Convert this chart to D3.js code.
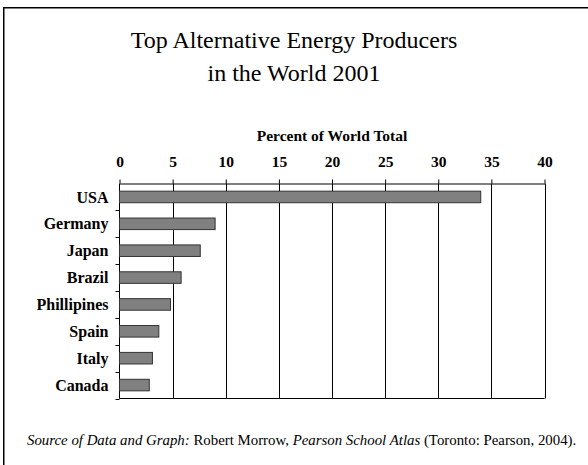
<!DOCTYPE html>
<html>
<head>
<meta charset="utf-8">
<script src="https://cdn.jsdelivr.net/npm/d3@7"></script>
<style>
  body { margin: 0; background: #fff; }
  svg text { font-family: "Liberation Serif", "Times New Roman", serif; }
</style>
</head>
<body>
<div id="chart"></div>
<script>
const countries = ['USA', 'Germany', 'Japan', 'Brazil', 'Phillipines', 'Spain', 'Italy', 'Canada']
const percents = [34.0, 9.0, 7.6, 5.8, 4.8, 3.7, 3.1, 2.8]
const tickValues = [0, 5, 10, 15, 20, 25, 30, 35, 40]

const width = 588
const height = 465
const margin = { top: 183.5, right: 43.5, bottom: 66.5, left: 119.5 }
const serif = '"Liberation Serif", "Times New Roman", serif'

const data = countries.map((c, i) => ({ name: c, value: percents[i] }))

const svg = d3
  .select('#chart')
  .append('svg')
  .attr('width', width)
  .attr('height', height)
  .attr('font-family', serif)

// slide frame (only top and left edges fall inside the picture)
svg
  .append('rect')
  .attr('x', 3.75)
  .attr('y', 7.75)
  .attr('width', width)
  .attr('height', height)
  .attr('fill', 'none')
  .attr('stroke', '#000')
  .attr('stroke-width', 1.5)

const title = svg
  .append('text')
  .attr('text-anchor', 'middle')
  .style('font-size', '24px')
title.append('tspan').attr('x', 294).attr('y', 48).text('Top Alternative Energy Producers')
title.append('tspan').attr('x', 294).attr('y', 81).text('in the World 2001')

const x = d3.scaleLinear().domain([0, 40]).range([margin.left, width - margin.right])
const y = d3
  .scaleBand()
  .domain(countries)
  .range([margin.top, height - margin.bottom])

// vertical grid lines
svg
  .append('g')
  .selectAll('line')
  .data(tickValues.slice(1))
  .join('line')
  .attr('x1', d => Math.round(x(d)) + 0.5)
  .attr('x2', d => Math.round(x(d)) + 0.5)
  .attr('y1', margin.top)
  .attr('y2', height - margin.bottom)
  .attr('stroke', '#000')

// top axis
const xAxis = svg
  .append('g')
  .attr('transform', `translate(0,${margin.top})`)
  .call(d3.axisTop(x).tickValues(tickValues).tickSize(4).tickSizeOuter(0).tickPadding(13))
xAxis.attr('font-family', serif).attr('font-size', null)
xAxis.select('.domain').attr('stroke', '#000')
xAxis
  .selectAll('.tick text')
  .style('font-size', '15.5px')
  .style('font-weight', 'bold')
  .attr('fill', '#000')

svg
  .append('text')
  .attr('x', (x(0) + x(40)) / 2)
  .attr('y', 141)
  .attr('text-anchor', 'middle')
  .style('font-size', '15.5px')
  .style('font-weight', 'bold')
  .text('Percent of World Total')

// left axis, ticks sit on band boundaries
const leftAxis = svg.append('g').attr('transform', `translate(${margin.left},0)`)
leftAxis
  .append('line')
  .attr('y1', margin.top)
  .attr('y2', height - margin.bottom)
  .attr('stroke', '#000')
leftAxis
  .selectAll('.sep')
  .data(countries)
  .join('line')
  .attr('class', 'sep')
  .attr('x1', -4)
  .attr('x2', 0)
  .attr('y1', d => Math.round(y(d) + y.bandwidth()) + 0.5)
  .attr('y2', d => Math.round(y(d) + y.bandwidth()) + 0.5)
  .attr('stroke', '#000')
leftAxis
  .selectAll('.lbl')
  .data(countries)
  .join('text')
  .attr('class', 'lbl')
  .attr('x', -11)
  .attr('y', d => y(d) + y.bandwidth() / 2)
  .attr('dy', '0.35em')
  .attr('text-anchor', 'end')
  .style('font-size', '16px')
  .style('font-weight', 'bold')
  .text(d => d)

// bottom baseline
svg
  .append('line')
  .attr('x1', margin.left)
  .attr('x2', width - margin.right)
  .attr('y1', height - margin.bottom)
  .attr('y2', height - margin.bottom)
  .attr('stroke', '#000')

// bars
const barH = y.bandwidth() * 0.43
svg
  .append('g')
  .selectAll('rect')
  .data(data)
  .join('rect')
  .attr('x', x(0))
  .attr('y', d => y(d.name) + (y.bandwidth() - barH) / 2)
  .attr('width', d => x(d.value) - x(0))
  .attr('height', barH)
  .attr('fill', '#808080')
  .attr('stroke', '#333')
  .attr('stroke-width', 1)

// source line
const src = svg
  .append('text')
  .attr('x', 27)
  .attr('y', 445)
  .style('font-size', '14.85px')
src.append('tspan').style('font-style', 'italic').text('Source of Data and Graph:')
src.append('tspan').text(' Robert Morrow, ')
src.append('tspan').style('font-style', 'italic').text('Pearson School Atlas')
src.append('tspan').text(' (Toronto: Pearson, 2004).')
</script>
</body>
</html>
